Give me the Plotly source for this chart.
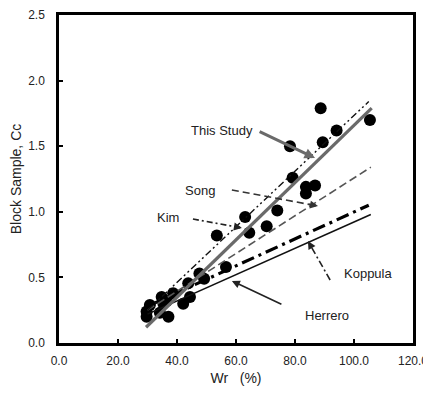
import plotly.graph_objects as go

# measured points (Wr %, Cc)
wr = [88.7, 105.4, 94.1, 89.4, 78.3, 79.2, 86.8, 83.7, 83.7, 74.0, 63.1, 70.4, 64.5,
      53.5, 56.6, 49.2, 47.6, 43.8, 44.4, 42.1, 38.7, 34.8, 35.4, 30.8, 29.7, 34.2,
      37.1, 29.7, 36.5]
cc = [1.79, 1.70, 1.62, 1.53, 1.50, 1.26, 1.20, 1.19, 1.14, 1.01, 0.96, 0.89, 0.84,
      0.82, 0.58, 0.49, 0.53, 0.455, 0.35, 0.30, 0.38, 0.35, 0.30, 0.29, 0.24, 0.23,
      0.20, 0.20, 0.32]

# correlation lines (end points)
this_x = [29.5, 106.0]
this_y = [0.12, 1.79]
kim_x = [30.0, 105.0]
kim_y = [0.25, 1.84]
song_x = [30.0, 105.7]
song_y = [0.25, 1.34]
kop_x = [30.0, 105.0]
kop_y = [0.28, 1.05]
her_x = [30.0, 105.7]
her_y = [0.22, 0.98]

x_ticks = [0, 20, 40, 60, 80, 100, 120]
y_ticks = [0.0, 0.5, 1.0, 1.5, 2.0, 2.5]

fig = go.Figure()
fig.add_trace(go.Scatter(x=wr, y=cc, mode="markers",
                         marker=dict(color="black", size=12), showlegend=False))
fig.add_trace(go.Scatter(x=her_x, y=her_y, mode="lines",
                         line=dict(color="#111", width=1.6), showlegend=False))
fig.add_trace(go.Scatter(x=kop_x, y=kop_y, mode="lines",
                         line=dict(color="#000", width=3.2, dash="13px,5px,3px,5px"), showlegend=False))
fig.add_trace(go.Scatter(x=song_x, y=song_y, mode="lines",
                         line=dict(color="#555", width=1.6, dash="8px,4px"), showlegend=False))
fig.add_trace(go.Scatter(x=kim_x, y=kim_y, mode="lines",
                         line=dict(color="#111", width=1.4, dash="7px,3px,2px,3px,2px,3px"), showlegend=False))
fig.add_trace(go.Scatter(x=this_x, y=this_y, mode="lines",
                         line=dict(color="#6a6a6a", width=3.2), showlegend=False))

tfont = dict(family="Liberation Sans, Arial, sans-serif", size=13, color="#222")
labels = [("This Study", 55.3, 1.62), ("Song", 47.8, 1.166), ("Kim", 36.9, 0.96),
          ("Koppula", 104.7, 0.53), ("Herrero", 90.8, 0.206)]
for t, x, y in labels:
    fig.add_annotation(x=x, y=y, text=t, showarrow=False, font=tfont)

# solid arrows
fig.add_annotation(x=86.8, y=1.41, ax=67.5, ay=1.616, axref="x", ayref="y", text="",
                   showarrow=True, arrowhead=2, arrowsize=0.7, arrowwidth=3, arrowcolor="#6a6a6a")
fig.add_annotation(x=58.6, y=0.473, ax=75.9, ay=0.29, axref="x", ayref="y", text="",
                   showarrow=True, arrowhead=2, arrowsize=1, arrowwidth=1.6, arrowcolor="#222")

# dashed arrows: shaft as shape, head as short annotation
dashed = [((58.6, 1.166), (87.8, 1.044), "7px,4px", "#333"),
          ((45.4, 0.945), (62.0, 0.877), "6px,3px,2px,3px", "#222"),
          ((91.9, 0.48), (84.4, 0.777), "7px,3px,2px,3px", "#222")]
for (x0, y0), (x1, y1), d, c in dashed:
    fig.add_shape(type="line", x0=x0, y0=y0, x1=x1, y1=y1, xref="x", yref="y",
                  line=dict(color=c, width=1.6, dash=d))
    fx = x1 - (x1 - x0) * 0.12
    fy = y1 - (y1 - y0) * 0.12
    fig.add_annotation(x=x1, y=y1, ax=fx, ay=fy, axref="x", ayref="y", text="",
                       showarrow=True, arrowhead=2, arrowsize=1, arrowwidth=1.6, arrowcolor=c)

tickfont = dict(family="Liberation Sans, Arial, sans-serif", size=12, color="#222")
titlefont = dict(family="Liberation Sans, Arial, sans-serif", size=14, color="#222")
fig.update_xaxes(range=[0, 120], tickvals=x_ticks, ticktext=[f"{v:.1f}" for v in x_ticks],
                 showgrid=False, zeroline=False, showline=True, linewidth=2.5, linecolor="black",
                 mirror=True, ticks="inside", ticklen=4, tickwidth=1.5, tickcolor="black",
                 automargin=False, ticklabelstandoff=5,
                 tickfont=tickfont, title=dict(text="Wr   (%)", font=titlefont, standoff=7))
fig.update_yaxes(range=[0, 2.5], tickvals=y_ticks, ticktext=[f"{v:.1f}" for v in y_ticks],
                 showgrid=False, zeroline=False, showline=True, linewidth=2.5, linecolor="black",
                 mirror=True, ticks="inside", ticklen=4, tickwidth=1.5, tickcolor="black",
                 automargin=False, ticklabelstandoff=9,
                 tickfont=tickfont, title=dict(text="Block Sample, Cc", font=titlefont, standoff=5))
# page body has an 8px margin, so the figure is 8px smaller and margins shifted
fig.update_layout(width=423, height=389, margin=dict(l=51, r=18, t=7, b=54),
                  plot_bgcolor="white", paper_bgcolor="white")
fig.write_html("out.html")
